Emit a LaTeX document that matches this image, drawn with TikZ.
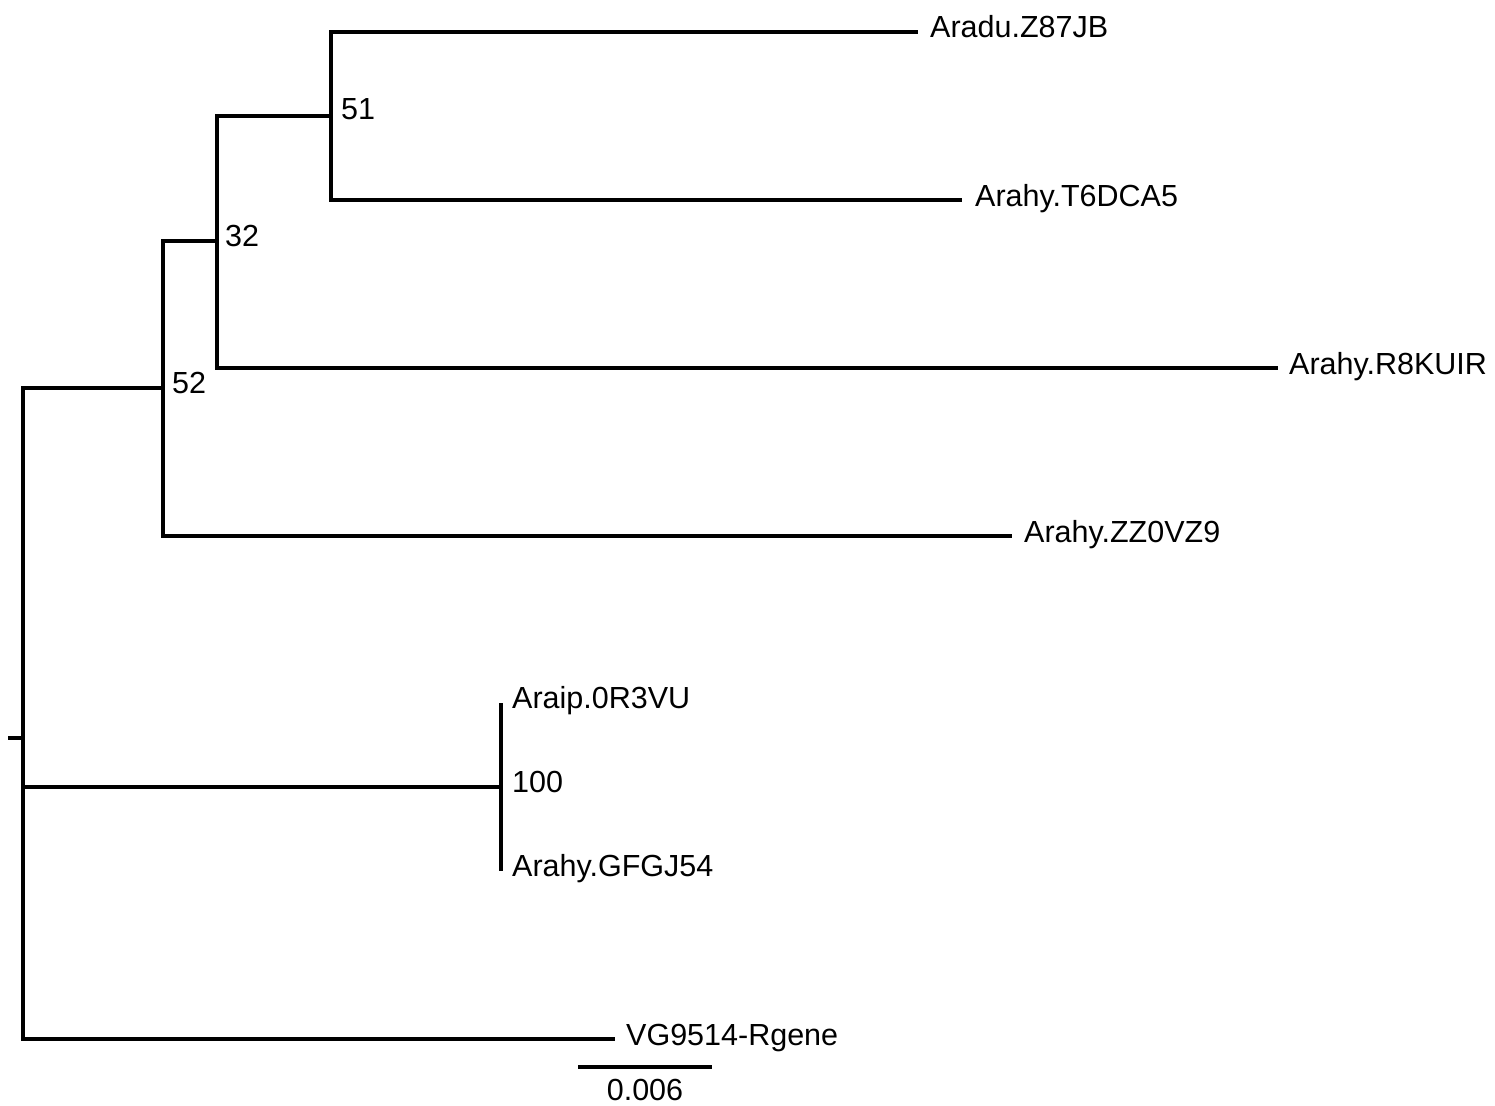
\documentclass[tikz,border=0pt]{standalone}
\usepackage{fontspec}
\setmainfont{Liberation Sans}
\begin{document}
\begin{tikzpicture}[x=1pt,y=-1pt,
  branch/.style={line width=3.4pt,black},
  lab/.style={inner sep=0pt,anchor=base west,font=\fontsize{30.5}{35}\selectfont},
  boot/.style={inner sep=0pt,anchor=base west,font=\fontsize{30.5}{35}\selectfont}]
\useasboundingbox[fill=white] (0,0) rectangle (1495,1105);
% internal nodes
\coordinate (r0) at (8,738);
\coordinate (r) at (23,738);
\coordinate (n52) at (163,388);
\coordinate (n32) at (217,241);
\coordinate (n51) at (331,116);
\coordinate (n100) at (501,787);
% leaf ends
\coordinate (lA) at (918,32);
\coordinate (lT) at (962,200);
\coordinate (lR) at (1278,368);
\coordinate (lZ) at (1012,536);
\coordinate (lP) at (501,703);
\coordinate (lG) at (501,871);
\coordinate (lV) at (615,1039);
% scale bar ends
\coordinate (sb1) at (578,1067);
\coordinate (sb2) at (712,1067);
% branches
\draw[branch] (r0) -- (r);
\draw[branch] (r) |- (n52);
\draw[branch] (r) |- (n100);
\draw[branch] (r) |- (lV);
\draw[branch] (n52) |- (n32);
\draw[branch] (n52) |- (lZ);
\draw[branch] (n32) |- (n51);
\draw[branch] (n32) |- (lR);
\draw[branch] (n51) |- (lA);
\draw[branch] (n51) |- (lT);
\draw[branch] (n100) -- (lP);
\draw[branch] (n100) -- (lG);
\draw[branch] (sb1) -- (sb2);
% leaf labels
\node[lab] (tA) at (930,38) {Aradu.Z87JB};
\node[lab] (tT) at (975,206) {Arahy.T6DCA5};
\node[lab] (tR) at (1289,374) {Arahy.R8KUIR};
\node[lab] (tZ) at (1024,542) {Arahy.ZZ0VZ9};
\node[lab] (tP) at (512,708) {Araip.0R3VU};
\node[lab] (tG) at (512,876) {Arahy.GFGJ54};
\node[lab] (tV) at (626,1045) {VG9514-Rgene};
% bootstrap values
\node[boot] (b51) at (341,120) {51};
\node[boot] (b32) at (225,246) {32};
\node[boot] (b52) at (172,393) {52};
\node[boot] (b100) at (512,792) {100};
% scale label
\node[inner sep=0pt,anchor=base,font=\fontsize{30.5}{35}\selectfont] (sl) at (645,1100) {0.006};
\end{tikzpicture}
\end{document}
